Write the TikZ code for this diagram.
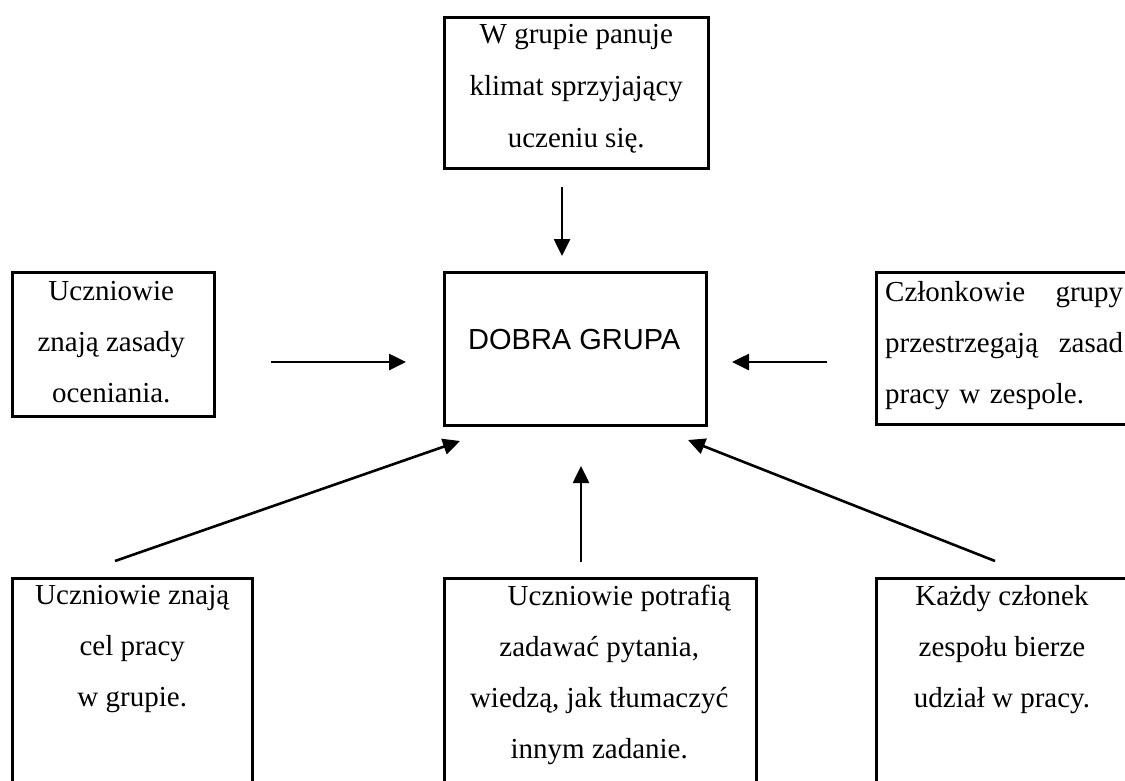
\documentclass[tikz,border=0pt]{standalone}
\usepackage{fontspec}
\setmainfont{Liberation Serif}
\setsansfont{Liberation Sans}
\usetikzlibrary{arrows.meta,positioning,calc}

\begin{document}
\begin{tikzpicture}[x=1pt,y=-1pt,
  box/.style={draw,line width=2.5pt,anchor=north west,inner sep=0pt},
  txt/.style={anchor=north,align=center,inner sep=0pt,font=\fontsize{29}{51}\selectfont},
  arr/.style={-{Triangle[length=17pt,width=16pt]},line width=2.6pt}]
\useasboundingbox (0,0) rectangle (1125,780);

% Centre box
\node[box,minimum width=262,minimum height=153] (mid) at (443,271) {};
\node[font=\sffamily\fontsize{29}{35}\selectfont,inner sep=0pt] (midtxt) at ($(mid.center)+(-1,-9)$) {DOBRA GRUPA};

% Top box
\node[box,minimum width=264,minimum height=151] (top) at (443,16) {};
\node[txt,font=\fontsize{29}{52}\selectfont] (toptxt) at ($(top.north)+(0,8)$) {W grupie panuje\\klimat sprzyjający\\uczeniu się.};

% Left and right boxes
\node[box,minimum width=202,minimum height=144] (left) at (11,271) {};
\node[txt] (lefttxt) at ($(left.north)+(-2,10)$) {Uczniowie\\znają zasady\\oceniania.};
\node[box,minimum width=290,minimum height=152] (right) at (875,271) {};
\node[txt,anchor=north west,text width=238,align=left] (righttxt) at ($(right.north west)+(10,10)$)
  {Członkowie\hfill grupy\\przestrzegają\hfill zasad\\pracy w zespole.\hfill\null};

% Bottom boxes (run past the lower edge)
\node[box,minimum width=240,minimum height=260] (bl) at (11,577) {};
\node[txt] (bltxt) at ($(bl.north)+(0,8)$) {Uczniowie znają\\cel pracy\\w grupie.};
\node[box,minimum width=312,minimum height=260] (bm) at (443,577) {};
\node[txt] (bmtxt) at ($(bm.north)+(-1,8)$) {\hspace*{40pt}Uczniowie potrafią\\zadawać pytania,\\wiedzą, jak tłumaczyć\\innym zadanie.};
\node[box,minimum width=290,minimum height=260] (br) at (875,577) {};
\node[txt] (brtxt) at ($(br.north west)+(127,8)$) {Każdy członek\\zespołu bierze\\udział w pracy.};

% Arrow ends
\coordinate (t1) at (562,187);  \coordinate (t2) at (562,256);
\coordinate (l1) at (271,362);  \coordinate (l2) at (406,362);
\coordinate (r1) at (827,362);  \coordinate (r2) at (732,362);
\coordinate (a1) at (115,561);  \coordinate (a2) at (460,441);
\coordinate (b1) at (581,562);  \coordinate (b2) at (581,466);
\coordinate (c1) at (995,561);  \coordinate (c2) at (688,440);

\draw[arr] (t1) -- (t2);
\draw[arr] (l1) -- (l2);
\draw[arr] (r1) -- (r2);
\draw[arr] (a1) -- (a2);
\draw[arr] (b1) -- (b2);
\draw[arr] (c1) -- (c2);
\end{tikzpicture}
\end{document}
